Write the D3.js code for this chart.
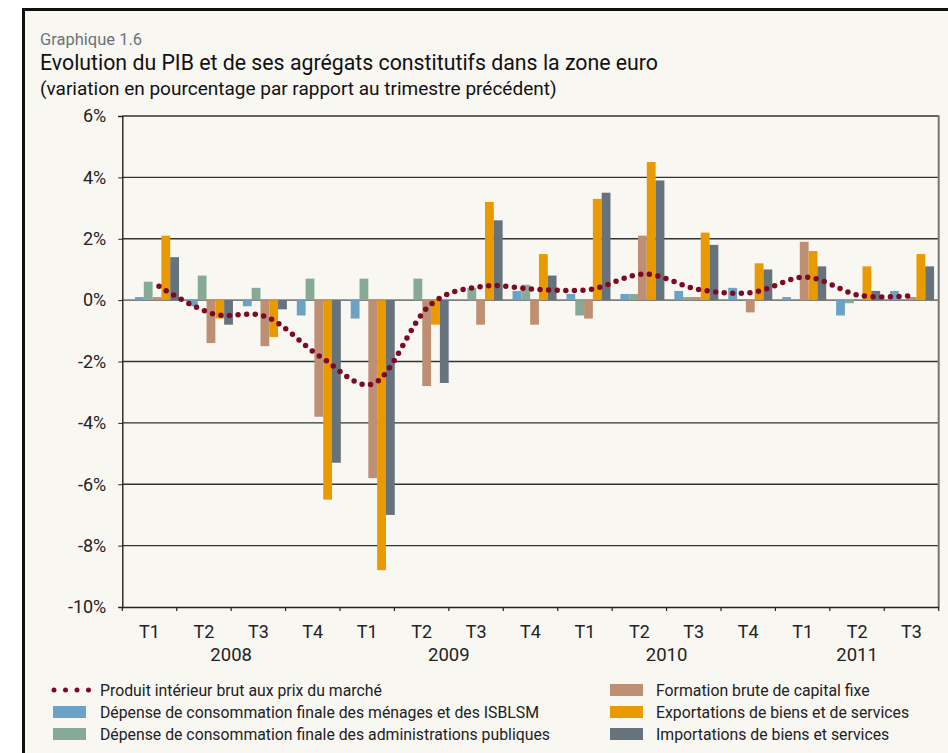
<!DOCTYPE html>
<html>
<head>
<meta charset="utf-8">
<script src="https://cdn.jsdelivr.net/npm/d3@7"></script>
<style>
  body { margin: 0; background: #fff; }
  svg text { font-family: Roboto, "Noto Sans", sans-serif; }
</style>
</head>
<body>
<div id="chart"></div>
<script>
// quarters and years
var quarters = ["T1","T2","T3","T4","T1","T2","T3","T4","T1","T2","T3","T4","T1","T2","T3"];
var years = ["2008","2009","2010","2011"];
var yearOf = [0,0,0,0,1,1,1,1,2,2,2,2,3,3,3];

// series (% change on previous quarter)
var pib =      [0.45,-0.45,-0.55,-1.85,-2.7,-0.2,0.45,0.35,0.35,0.85,0.35,0.25,0.75,0.15,0.15];
var menages =  [0.1,-0.2,-0.2,-0.5,-0.6,0.0,0.0,0.3,0.2,0.2,0.3,0.4,0.1,-0.5,0.3];
var admin =    [0.6,0.8,0.4,0.7,0.7,0.7,0.4,0.5,-0.5,0.2,0.1,0.0,0.0,-0.1,0.0];
var fbcf =     [0.1,-1.4,-1.5,-3.8,-5.8,-2.8,-0.8,-0.8,-0.6,2.1,0.1,-0.4,1.9,0.0,0.1];
var exports =  [2.1,-0.6,-1.2,-6.5,-8.8,-0.8,3.2,1.5,3.3,4.5,2.2,1.2,1.6,1.1,1.5];
var imports =  [1.4,-0.8,-0.3,-5.3,-7.0,-2.7,2.6,0.8,3.5,3.9,1.8,1.0,1.1,0.3,1.1];

var yTicks = [-10,-8,-6,-4,-2,0,2,4,6];

var barSeries = [
  {name: "Dépense de consommation finale des ménages et des ISBLSM", values: menages, color: "#6aa3c6"},
  {name: "Dépense de consommation finale des administrations publiques", values: admin, color: "#86aa96"},
  {name: "Formation brute de capital fixe", values: fbcf, color: "#bf8f74"},
  {name: "Exportations de biens et de services", values: exports, color: "#e99a00"},
  {name: "Importations de biens et services", values: imports, color: "#66737c"}
];
var lineName = "Produit intérieur brut aux prix du marché";
var lineColor = "#7d0a23";

var W = 948, H = 753;
var svg = d3.select("#chart").append("svg").attr("width", W).attr("height", H);

// frame
svg.append("rect").attr("x", 23.5).attr("y", 9.5).attr("width", 1000).attr("height", 800)
  .attr("fill", "#f8f7f2").attr("stroke", "#111").attr("stroke-width", 3);

// titles
svg.append("text").attr("x", 40).attr("y", 45).attr("fill", "#6b7378").attr("font-size", 16.5).text("Graphique 1.6");
svg.append("text").attr("x", 40).attr("y", 70).attr("fill", "#111").attr("font-size", 21.3)
  .text("Evolution du PIB et de ses agrégats constitutifs dans la zone euro");
svg.append("text").attr("x", 40).attr("y", 95).attr("fill", "#111").attr("font-size", 19)
  .text("(variation en pourcentage par rapport au trimestre précédent)");

var pLeft = 122.3, pRight = 938.7, pTop = 116, pBottom = 607;

var idx = d3.range(quarters.length);
var x = d3.scaleBand().domain(idx).range([pLeft, pRight]);
// bar clusters sit slightly right of the category ticks in the original
var xBar = d3.scaleBand().domain(idx).range([135, 944]);
var xSub = d3.scaleBand().domain(d3.range(barSeries.length)).range([0, xBar.bandwidth() * 0.816]);
var y = d3.scaleLinear().domain([-10, 6]).range([pBottom, pTop]);

// gridlines
svg.append("g").selectAll("line").data(yTicks.filter(function(d){ return d !== 0 && d !== -10; }))
  .enter().append("line")
  .attr("x1", pLeft).attr("x2", pRight)
  .attr("y1", function(d){ return y(d); }).attr("y2", function(d){ return y(d); })
  .attr("stroke", "#333").attr("stroke-width", 1.4);

// zero line
svg.append("line").attr("x1", pLeft).attr("x2", pRight).attr("y1", y(0)).attr("y2", y(0))
  .attr("stroke", "#7f7f7f").attr("stroke-width", 1.6);

// right border of plot
svg.append("line").attr("x1", pRight).attr("x2", pRight).attr("y1", pTop - 0.7).attr("y2", pBottom)
  .attr("stroke", "#777").attr("stroke-width", 2);

// bars
barSeries.forEach(function(s, si) {
  svg.append("g").selectAll("rect").data(s.values).enter().append("rect")
    .attr("x", function(d, i){ return xBar(i) + xSub(si); })
    .attr("width", xSub.bandwidth())
    .attr("y", function(d){ return y(Math.max(0, d)); })
    .attr("height", function(d){ return Math.abs(y(d) - y(0)); })
    .attr("fill", s.color);
});

// GDP dotted smooth line
var line = d3.line()
  .x(function(d, i){ return xBar(i) + xSub.bandwidth() * barSeries.length / 2 + 2; })
  .y(function(d){ return y(d); })
  .curve(d3.curveCatmullRom.alpha(0));
svg.append("path").datum(pib).attr("d", line)
  .attr("fill", "none").attr("stroke", lineColor).attr("stroke-width", 5.5)
  .attr("stroke-linecap", "round").attr("stroke-dasharray", "0 8.6");

// y axis
var yAxis = svg.append("g").attr("transform", "translate(" + pLeft + ",0)")
  .call(d3.axisLeft(y).tickValues(yTicks).tickSize(4).tickFormat(function(d){ return d + "%"; }));
yAxis.select(".domain").attr("stroke", "#222").attr("stroke-width", 1.4);
yAxis.selectAll(".tick line").attr("stroke", "#222");
yAxis.selectAll(".tick text").attr("font-size", 18).attr("fill", "#222").attr("x", -16)
  .style("font-family", "Roboto, sans-serif");

// x axis at -10%
var xAxis = svg.append("g").attr("transform", "translate(0," + pBottom + ")")
  .call(d3.axisBottom(x).tickSize(0).tickFormat(function(i){ return quarters[i]; }));
xAxis.select(".domain").attr("stroke", "#222").attr("stroke-width", 1.4);
xAxis.selectAll(".tick text").attr("font-size", 18).attr("fill", "#222").attr("dy", 0).attr("y", 31)
  .style("font-family", "Roboto, sans-serif");

// category boundary ticks
svg.append("g").selectAll("line").data(d3.range(quarters.length + 1)).enter().append("line")
  .attr("x1", function(i){ return pLeft + i * x.step(); })
  .attr("x2", function(i){ return pLeft + i * x.step(); })
  .attr("y1", pBottom).attr("y2", pBottom + 4)
  .attr("stroke", "#222").attr("stroke-width", 1.2);

// year labels
svg.append("g").selectAll("text").data(years).enter().append("text")
  .attr("x", function(yr, k){
    var q = idx.filter(function(i){ return yearOf[i] === k; });
    return (x(q[0]) + x(q[q.length - 1]) + x.bandwidth()) / 2;
  })
  .attr("y", 661).attr("text-anchor", "middle").attr("font-size", 18.5).attr("fill", "#222")
  .text(function(d){ return d; });

// legend
var legendItems = [{name: lineName, line: true}].concat(barSeries);
var leg = svg.append("g");
legendItems.forEach(function(it, k) {
  var col = k < 3 ? 0 : 1, row = k % 3;
  var lx = col === 0 ? 53 : 610, ly = 690 + row * 22;
  if (it.line) {
    leg.append("line").attr("x1", lx + 1).attr("x2", lx + 36).attr("y1", ly).attr("y2", ly)
      .attr("stroke", lineColor).attr("stroke-width", 5).attr("stroke-linecap", "round")
      .attr("stroke-dasharray", "0 11.5");
  } else {
    leg.append("rect").attr("x", lx).attr("y", ly - 6).attr("width", 33).attr("height", 12).attr("fill", it.color);
  }
  leg.append("text").attr("x", lx + (col === 0 ? 47 : 46)).attr("y", ly + 5.5)
    .attr("font-size", 15.8).attr("fill", "#222").text(it.name);
});
</script>
</body>
</html>
